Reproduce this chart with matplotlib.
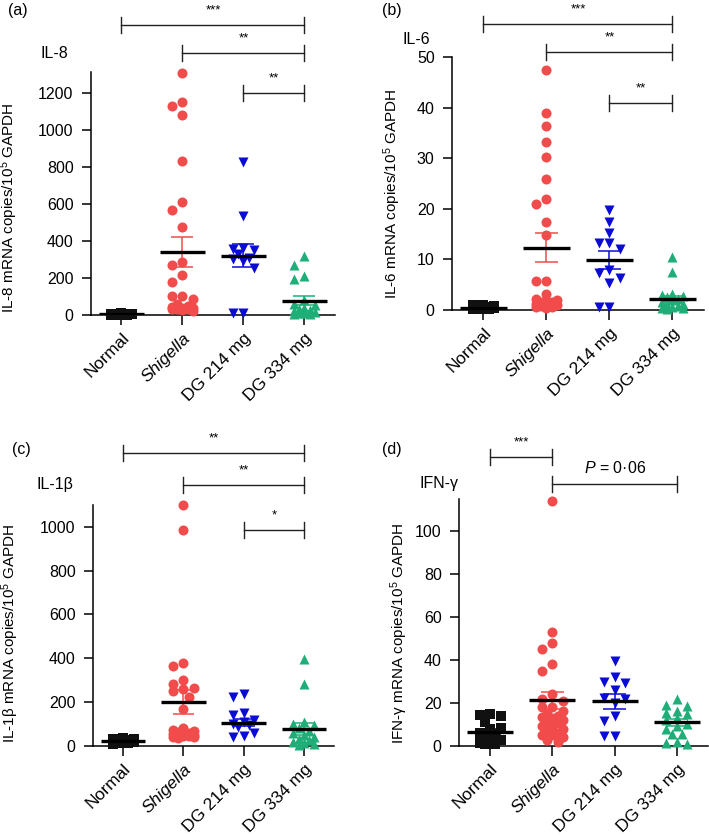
import numpy as np
import matplotlib
matplotlib.use("Agg")
import matplotlib.pyplot as plt

plt.rcParams['font.family'] = ['Liberation Sans', 'DejaVu Sans']
plt.rcParams['mathtext.fontset'] = 'custom'
plt.rcParams['mathtext.rm'] = 'Liberation Sans'
plt.rcParams['mathtext.it'] = 'Liberation Sans:italic'

groups = ["Normal", "Shigella", "DG 214 mg", "DG 334 mg"]
colors = ["#111111", "#f24b4b", "#0b0bd6", "#1fae78"]
markers = ["s", "o", "v", "^"]

# IL-8
il8_normal = [2, 3, 5, 1, 8, 4, 6, 2, 3, 10, 5, 7]
il8_shigella = [1310, 1150, 1130, 1080, 830, 610, 565, 475, 285, 270, 215, 180,
                100, 100, 85, 60, 50, 45, 40, 40, 35, 30, 30, 25, 20]
il8_dg214 = [825, 535, 360, 355, 350, 330, 310, 300, 290, 255, 10, 10]
il8_dg334 = [320, 270, 210, 195, 80, 60, 55, 40, 30, 25, 20, 15, 10, 10, 5, 5]
il8_mean = [5, 340, 320, 78]
il8_sem = [1.5, 81, 62, 22]

# IL-6
il6_normal = [0.2, 0.4, 0.6, 0.3, 0.8, 0.1, 0.5, 0.9, 0.2, 0.7, 0.4, 1.0]
il6_shigella = [47.5, 39, 36.5, 33.3, 30.3, 26, 22, 21, 17.5, 14.8, 5.7, 5.7, 3.2,
                2.2, 2.0, 1.8, 1.5, 1.5, 1.2, 1.0, 1.0, 0.8, 0.6, 0.5, 0.4]
il6_dg214 = [19.7, 17.5, 15.3, 13.3, 13.2, 12.1, 8.0, 7.3, 6.3, 5.4, 0.6, 0.6]
il6_dg334 = [10.5, 7.6, 3.2, 3.0, 2.8, 2.5, 2.2, 2.0, 1.5, 1.2, 1.0, 0.8, 0.5, 0.4, 0.3, 0.2]
il6_mean = [0.4, 12.3, 9.9, 2.1]
il6_sem = [0.1, 2.9, 1.85, 0.7]

# IL-1beta
il1b_normal = [10, 15, 20, 25, 30, 35, 18, 22, 12, 28, 32, 16]
il1b_shigella = [1100, 985, 378, 365, 300, 285, 265, 260, 250, 225, 170, 80, 75, 70,
                 65, 60, 55, 55, 50, 50, 45, 45, 40, 40, 35]
il1b_dg214 = [238, 222, 150, 140, 120, 110, 100, 95, 85, 60, 45, 40]
il1b_dg334 = [395, 285, 110, 100, 95, 80, 70, 60, 50, 40, 30, 25, 20, 15, 10, 5]
il1b_mean = [22, 202, 107, 77]
il1b_sem = [3, 55, 18, 26]

# IFN-gamma
ifng_normal = [15, 14.5, 14, 11, 8.5, 8, 6, 5.5, 4, 3, 2, 1.5, 1, 1]
ifng_shigella = [114, 53, 48, 45, 38, 35, 24, 22, 21, 18, 18, 16.5, 15, 14, 13.5, 13,
                 12, 11, 10.5, 9.5, 9, 8, 7.5, 6, 5, 5, 4, 3, 2]
ifng_dg214 = [39.5, 32, 30, 29.5, 26, 22.5, 22, 20, 14, 11.5, 4.5, 4.5]
ifng_dg334 = [22, 19, 18.5, 16.5, 15.5, 15, 13, 12, 10, 9.5, 8, 5.5, 5.5, 2, 1.5, 1]
ifng_mean = [6.5, 21.3, 20.7, 11.1]
ifng_sem = [1.6, 4.0, 3.3, 1.6]


def swarm_offsets(ax, xc, vals, diam=10.5):
    """prism-like scatter: up to 3 columns, overlap allowed when crowded"""
    t = ax.transData
    sx = t.transform((1, 0))[0] - t.transform((0, 0))[0]
    ys = t.transform(np.column_stack([np.zeros(len(vals)), vals]))[:, 1]
    cand = [0, -1, 1, -0.5, 0.5]
    placed = []
    offs = np.zeros(len(vals))
    for i in np.argsort(vals)[::-1]:
        best, bestd = 0, -1
        for k in cand:
            xp = k * diam
            d = min([np.hypot(xp - px, ys[i] - py) for px, py in placed] or [1e9])
            if d >= diam * 0.98:
                best = xp
                break
            if d > bestd:
                best, bestd = xp, d
        placed.append((best, ys[i]))
        offs[i] = best / sx
    return xc + offs


def panel(rect, ylim, yticks, series, means, sems, ylabel, labxy):
    ax = fig.add_axes(rect)
    ax.set_xlim(-0.5, 3.5)
    ax.set_ylim(*ylim)
    for s in ["top", "right"]:
        ax.spines[s].set_visible(False)
    for s in ["left", "bottom"]:
        ax.spines[s].set_linewidth(1.1)
    ax.set_yticks(yticks)
    ax.set_xticks(range(4))
    ax.set_xticklabels(groups, rotation=45, ha="right", rotation_mode="anchor", fontsize=12.5)
    ax.get_xticklabels()[1].set_style("italic")
    ax.tick_params(axis="y", length=6.5, width=1.1, pad=6, labelsize=11.5)
    ax.tick_params(axis="x", length=7, width=1.1, pad=4)
    for i, vals in enumerate(series):
        xs = swarm_offsets(ax, i, vals)
        ax.scatter(xs, vals, s=52, marker=markers[i], color=colors[i],
                   linewidths=0, zorder=3, clip_on=False)
        ax.errorbar(i, means[i], yerr=sems[i], fmt="none", ecolor=colors[i],
                    elinewidth=1.1, capsize=0, zorder=4)
        for v in (means[i] - sems[i], means[i] + sems[i]):
            ax.plot([i - 0.18, i + 0.18], [v, v], color=colors[i],
                    lw=1.1, zorder=4, solid_capstyle="butt")
        ax.plot([i - 0.37, i + 0.37], [means[i], means[i]], color="black", lw=2.4,
                zorder=5, solid_capstyle="butt")
    ax.set_ylabel(ylabel, fontsize=11)
    ax.yaxis.set_label_coords(*labxy)
    return ax


def bracket(ax, x1, x2, yf, label, fs=9.5, dy=0.035):
    tr = ax.get_xaxis_transform()
    ax.plot([x1, x2], [yf, yf], color="#222222", lw=1.0, transform=tr, clip_on=False)
    for x in (x1, x2):
        ax.plot([x, x], [yf - 0.033, yf + 0.033], color="#222222", lw=1.0,
                transform=tr, clip_on=False)
    ax.text((x1 + x2) / 2, yf + dy, label, ha="center", va="bottom", fontsize=fs,
            transform=tr)


fig = plt.figure(figsize=(7.09, 8.36), dpi=100)

ylab = "{} mRNA copies/10$^5$ GAPDH"

axa = panel([0.1283, 0.6232, 0.3441, 0.2907], (0, 1313), range(0, 1201, 200),
            [il8_normal, il8_shigella, il8_dg214, il8_dg334], il8_mean, il8_sem,
            ylab.format("IL-8"), (-0.29, 0.44))
bracket(axa, 0, 3, 1.193, "***")
bracket(axa, 1, 3, 1.078, "**")
bracket(axa, 2, 3, 0.914, "**")
axa.text(-0.87, 1.078, "IL-8", ha="right", va="center", fontsize=11.5,
         transform=axa.get_xaxis_transform())

axb = panel([0.6375, 0.6292, 0.3554, 0.3023], (0, 50), range(0, 51, 10),
            [il6_normal, il6_shigella, il6_dg214, il6_dg334], il6_mean, il6_sem,
            ylab.format("IL-6"), (-0.195, 0.459))
bracket(axb, 0, 3, 1.132, "***")
bracket(axb, 1, 3, 1.021, "**")
bracket(axb, 2, 3, 0.819, "**")
axb.text(-0.84, 1.072, "IL-6", ha="right", va="center", fontsize=11.5,
         transform=axb.get_xaxis_transform())

axc = panel([0.1312, 0.1077, 0.340, 0.2883], (0, 1100), range(0, 1001, 200),
            [il1b_normal, il1b_shigella, il1b_dg214, il1b_dg334], il1b_mean, il1b_sem,
            ylab.format("IL-1β"), (-0.30, 0.469))
bracket(axc, 0, 3, 1.216, "**")
bracket(axc, 1, 3, 1.083, "**")
bracket(axc, 2, 3, 0.896, "*")
axc.text(-0.82, 1.083, "IL-1β", ha="right", va="center", fontsize=11.5,
         transform=axc.get_xaxis_transform())

axd = panel([0.6474, 0.1077, 0.3512, 0.2955], (0, 115), range(0, 101, 20),
            [ifng_normal, ifng_shigella, ifng_dg214, ifng_dg334], ifng_mean, ifng_sem,
            ylab.format("IFN-γ"), (-0.197, 0.457))
bracket(axd, 0, 1, 1.170, "***")
bracket(axd, 1, 3, 1.061, "$P$ = 0·06", fs=11.5, dy=0.03)
axd.text(-0.51, 1.061, "IFN-γ", ha="right", va="center", fontsize=11.5,
         transform=axd.get_xaxis_transform())

for lab, x, y in [("(a)", 0.025, 0.988), ("(b)", 0.552, 0.988),
                  ("(c)", 0.03, 0.462), ("(d)", 0.552, 0.462)]:
    fig.text(x, y, lab, ha="center", va="center", fontsize=11.5)

fig.savefig("out.png", dpi=100)
